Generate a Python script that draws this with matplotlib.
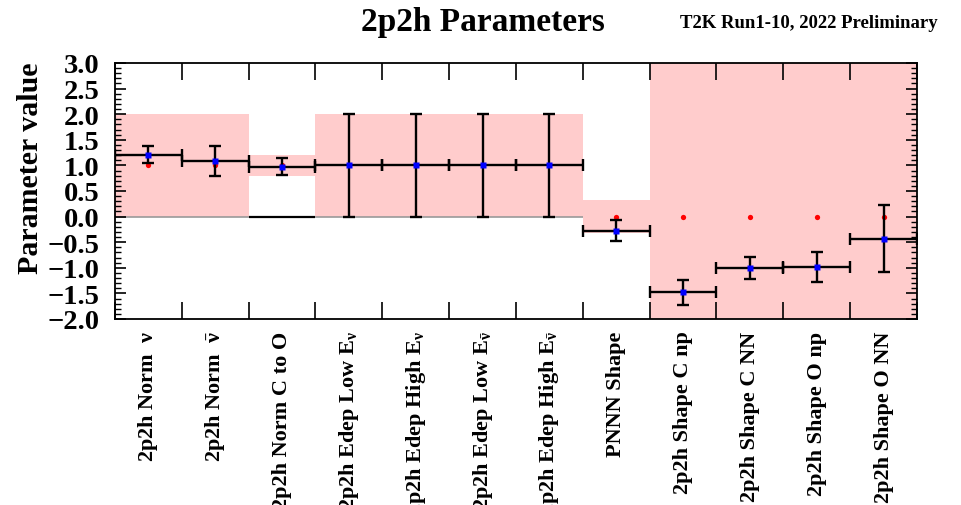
import numpy as np
import matplotlib
matplotlib.use("Agg")
import matplotlib.pyplot as plt
from matplotlib.ticker import MultipleLocator, FixedLocator
import matplotlib.transforms as mtrans

plt.rcParams['font.family'] = ['Liberation Serif', 'DejaVu Serif']
plt.rcParams['font.weight'] = 'bold'
plt.rcParams['mathtext.fontset'] = 'custom'
plt.rcParams['mathtext.rm'] = 'Liberation Serif:bold'
plt.rcParams['mathtext.it'] = 'Liberation Serif:bold'
plt.rcParams['mathtext.bf'] = 'Liberation Serif:bold'
plt.rcParams['mathtext.default'] = 'regular'
plt.rcParams['axes.unicode_minus'] = True

labels = [
    r"2p2h Norm  $\nu$",
    r"2p2h Norm  $\bar{\nu}$",
    "2p2h Norm C to O",
    r"2p2h Edep Low E$_{\nu}$",
    r"2p2h Edep High E$_{\nu}$",
    r"2p2h Edep Low E$_{\bar{\nu}}$",
    r"2p2h Edep High E$_{\bar{\nu}}$",
    "PNNN Shape",
    "2p2h Shape C np",
    "2p2h Shape C NN",
    "2p2h Shape O np",
    "2p2h Shape O NN",
]
prior = [1.0, 1.0, 1.0, 1.0, 1.0, 1.0, 1.0, 0.0, 0.0, 0.0, 0.0, 0.0]
prior_err = [1.0, 1.0, 0.2, 1.0, 1.0, 1.0, 1.0, 0.33, 3.0, 3.0, 3.0, 3.0]
postfit = [1.21, 1.09, 0.975, 1.0, 1.0, 1.0, 1.0, -0.275, -1.48, -1.0, -0.99, -0.43]
post_err = [0.17, 0.29, 0.165, 1.0, 1.0, 1.0, 1.0, 0.205, 0.245, 0.21, 0.29, 0.66]
yticks = [-2.0, -1.5, -1.0, -0.5, 0.0, 0.5, 1.0, 1.5, 2.0, 2.5, 3.0]

W, H = 962, 506
fig = plt.figure(figsize=(W / 100, H / 100), dpi=100)
ax = fig.add_axes([115 / W, 186 / H, 802 / W, 256 / H])

n = len(labels)
centers = np.arange(n) + 0.5
prior_a = np.array(prior)
perr_a = np.array(prior_err)

ax.bar(centers, 2 * perr_a, bottom=prior_a - perr_a, width=1.0,
       color='#ffcccc', edgecolor='none', zorder=1)
ax.hlines(0.0, 0, 7, colors='#999999', linewidth=1.2, zorder=1.5)
ax.hlines(0.0, 2, 3, colors='black', linewidth=1.6, zorder=1.6)

ax.plot(centers, prior, 'o', color='red', ms=3.8, mec='none', zorder=2)
ax.errorbar(centers, postfit, xerr=0.5, yerr=post_err, fmt='none',
            ecolor='black', elinewidth=1.7, capsize=4, capthick=1.7, zorder=3)
ax.plot(centers, postfit, 's', color='blue', ms=4.6, mec='none', zorder=4)

ax.set_xlim(0, n)
ax.set_ylim(-2.0, 3.0)

ax.xaxis.set_major_locator(FixedLocator(np.arange(n + 1)))
ax.set_xticklabels([])
ax.tick_params(axis='x', which='major', direction='in', length=12, width=1.2,
               top=True, bottom=True)
ax.set_yticks(yticks)
ax.set_yticklabels([f"{v:.1f}".replace('-', '\u2212') for v in yticks],
                   fontsize=20.5, fontweight='bold')
ax.yaxis.set_minor_locator(MultipleLocator(0.1))
ax.tick_params(axis='y', which='major', direction='in', length=8, width=1.2,
               left=True, right=True, pad=11)
ax.tick_params(axis='y', which='minor', direction='in', length=4.5, width=1.0,
               left=True, right=True)
for s in ax.spines.values():
    s.set_linewidth(1.3)

trans = mtrans.blended_transform_factory(ax.transData, ax.transAxes)
for c, lab in zip(centers, labels):
    ax.text(c, -0.045, lab, transform=trans, rotation=90, ha='center', va='top',
            fontsize=16, fontweight='bold', rotation_mode='default')

fig.text(483 / W, 1 - 22 / H, "2p2h Parameters", ha='center', va='center',
         fontsize=24, fontweight='bold')
fig.text(938 / W, 1 - 23 / H, "T2K Run1-10, 2022 Preliminary", ha='right',
         va='center', fontsize=13.5, fontweight='bold')
fig.text(31 / W, 1 - 168 / H, "Parameter value", rotation=90, ha='center',
         va='center', fontsize=21.5, fontweight='bold')

fig.savefig("out.png", dpi=100)
